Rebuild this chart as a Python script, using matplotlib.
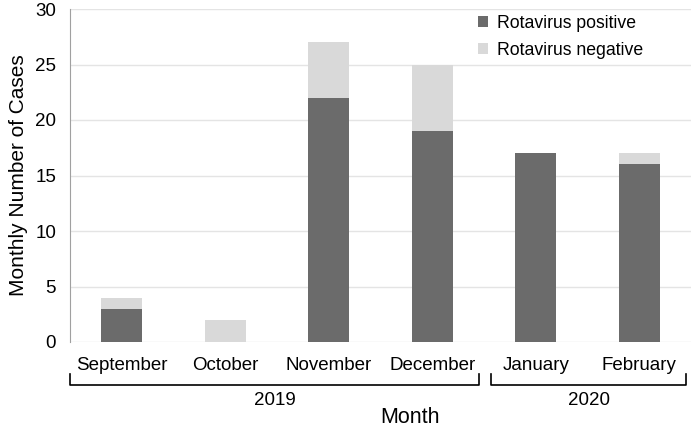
import matplotlib
matplotlib.use("Agg")
import matplotlib.pyplot as plt
import numpy as np

plt.rcParams["font.family"] = ["Liberation Sans", "DejaVu Sans"]

months = ["September", "October", "November", "December", "January", "February"]
positive = [3, 0, 22, 19, 17, 16]
negative = [1, 2, 5, 6, 0, 1]
years = ["2019", "2020"]

DARK = "#6b6b6b"
LIGHT = "#d9d9d9"

fig = plt.figure(figsize=(6.94, 4.29), dpi=100)
ax = fig.add_axes([70 / 694, 87 / 429, 621 / 694, 333 / 429])

x = np.arange(len(months))
pos = np.array(positive)
neg = np.array(negative)
ax.bar(x, pos, width=0.4, color=DARK, label="Rotavirus positive", zorder=3)
ax.bar(x, neg, width=0.4, bottom=pos, color=LIGHT, label="Rotavirus negative", zorder=3)

ax.set_xlim(-0.5, len(months) - 0.5)
ax.set_ylim(0, 30)
ax.set_yticks(range(0, 31, 5))
ax.yaxis.grid(True, color="#e4e4e4", lw=1, zorder=0)
ax.set_xticks(x)
ax.set_xticklabels(months, fontsize=13.5)
ax.tick_params(axis="x", length=0, pad=11)
ax.tick_params(axis="y", length=0, labelsize=13.5, pad=10)
for s in ("top", "right", "bottom"):
    ax.spines[s].set_visible(False)
ax.spines["left"].set_color("#a0a0a0")
ax.set_ylabel("Monthly Number of Cases", fontsize=15, labelpad=5)

# year brackets under the month labels
trans = ax.get_xaxis_transform()
y_top, y_bot = -0.095, -0.128
bracket_edges = [(-0.5, 3.45), (3.57, 5.45)]
for (x0, x1), yr in zip(bracket_edges, years):
    ax.plot([x0, x0, x1, x1], [y_top, y_bot, y_bot, y_top], color="black",
            lw=1.2, transform=trans, clip_on=False)
    ax.text((x0 + x1) / 2, -0.175, yr, transform=trans, ha="center",
            va="center", fontsize=13.5)

ax.text(2.785, -0.228, "Month", transform=trans, ha="center", va="center",
        fontsize=15.5)

ax.legend(loc="upper left", frameon=False, fontsize=12.7, handlelength=0.55,
          handleheight=0.55, handletextpad=0.55, labelspacing=0.55,
          borderpad=0, borderaxespad=0,
          bbox_to_anchor=((478 - 70) / 621, (342 - 15) / 333))

fig.savefig("out.png", dpi=100)
